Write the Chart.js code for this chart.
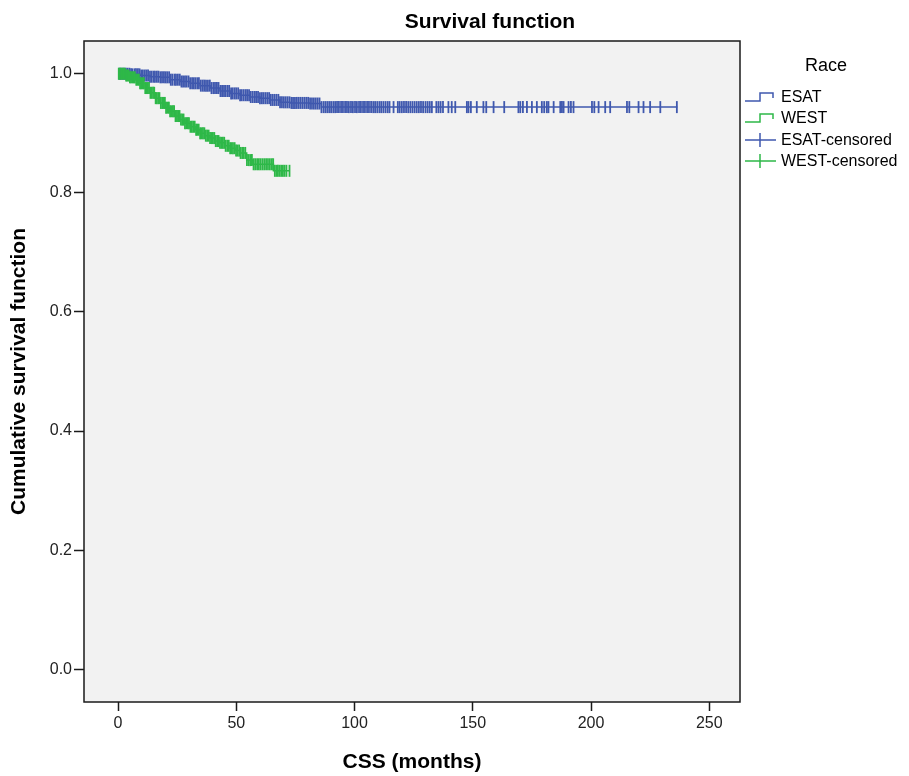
<!DOCTYPE html>
<html>
<head>
<meta charset="utf-8">
<script src="https://cdn.jsdelivr.net/npm/chart.js@4.4.1/dist/chart.umd.min.js"></script>
<style>
  html, body { margin: 0; padding: 0; background: #fff; }
</style>
</head>
<body>
<canvas id="km" width="909" height="776"></canvas>
<script>
// ===== data =====
const xTicks = [0, 50, 100, 150, 200, 250];
const yTicks = [0.0, 0.2, 0.4, 0.6, 0.8, 1.0];

// ESAT step curve (months, cumulative survival)
const esatTime = [0, 5, 9.3, 13.5, 17.8, 22, 26.2, 30.5, 34.7, 38.9, 43.1, 47.4, 51.6, 55.8, 60, 64.2, 68.5, 72.7, 77, 81, 86, 236.5];
const esatSurv = [1.000, 0.999, 0.997, 0.995, 0.994, 0.990, 0.987, 0.984, 0.980, 0.976, 0.971, 0.967, 0.964, 0.961, 0.959, 0.956, 0.952, 0.951, 0.951, 0.950, 0.944, 0.944];

// WEST step curve
const westTime = [0, 3, 5, 7.2, 9.3, 11.4, 13.5, 15.7, 17.8, 19.9, 22, 24.1, 26.2, 28.3, 30.5, 32.6, 34.7, 36.8, 38.9, 41, 43.1, 45.3, 47.4, 49.5, 51.6, 54.4, 57, 65.7, 72.5];
const westSurv = [1.000, 0.997, 0.994, 0.990, 0.984, 0.976, 0.968, 0.959, 0.951, 0.943, 0.937, 0.929, 0.923, 0.917, 0.911, 0.906, 0.900, 0.896, 0.892, 0.887, 0.884, 0.879, 0.875, 0.871, 0.867, 0.855, 0.848, 0.837, 0.837];

// censored observations (months)
const esatCensor = [0.5, 1.2, 2, 2.6, 3.3, 4, 4.8, 5.5, 6.1, 7, 7.6, 8.4, 9.1, 9.8, 10.5, 11.3, 12, 12.7, 13.5, 14.2, 15, 15.6, 16.4, 17.1, 17.9, 18.6, 19.4, 20.1, 20.8, 21.6, 22.3, 23, 23.9, 24.5, 25.3, 26.1, 26.8, 27.5, 28.3, 29, 29.8, 30.5, 31.3, 32, 32.7, 33.5, 34.2, 35, 35.8, 36.5, 37.2, 38, 38.8, 39.5, 40.3, 41, 41.8, 42.5, 43.3, 44, 44.8, 45.5, 46.3, 47, 47.8, 48.5, 49.3, 50, 50.8, 51.6, 52.3, 53.1, 53.9, 54.6, 55.4, 56.1, 56.9, 57.7, 58.4, 59.2, 60, 60.8, 61.5, 62.3, 63.1, 63.9, 64.6, 65.4, 66.2, 67, 67.8, 68.5, 69.3, 70.1, 70.9, 71.7, 72.5, 73.3, 74, 74.8, 75.6, 76.4, 77.2, 78, 78.8, 79.6, 80.4, 81.2, 82, 82.8, 83.6, 84.4, 85.2, 86, 86.9, 87.7, 88.5, 89.3, 90.1, 91, 91.8, 92.6, 93.4, 94.3, 95.1, 96, 96.8, 97.6, 98.5, 99.3, 100.2, 101, 101.9, 102.7, 103.6, 104.4, 105.3, 106.1, 107, 107.9, 108.7, 109.6, 110.5, 111.3, 112.2, 113.1, 114, 114.8, 116.5, 118.3, 119.1, 120, 120.9, 121.8, 122.7, 123.6, 124.5, 125.4, 126.3, 127.2, 128.1, 129, 130, 130.9, 131.8, 132.7, 134.6, 135.5, 136.4, 137.4,
  139.7, 141.1, 142.6, 147.5, 148.2, 149.2, 151.7, 154.5, 155.7, 158.8, 163.3, 169.3, 170.1, 171.2, 172.9, 175, 177.1, 179.2, 180.2, 181.3, 182, 184.2, 187, 187.7, 188.4, 190.5, 191.5, 192.6, 200.4, 201.4, 203.2, 206, 208.1, 215.2, 216.2, 220.1, 222.2, 225, 229.3, 236.3];
const westCensor = [0.3, 0.8, 1.3, 1.8, 2.3, 2.9, 3.4, 3.9, 4.5, 5, 5.5, 6.1, 6.6, 7.1, 7.7, 8.2, 8.8, 9.3, 9.8, 10.4, 10.9, 11.5, 12, 12.6, 13.1, 13.7, 14.2, 14.8, 15.3, 15.9, 16.4, 17, 17.5, 18.1, 18.7, 19.2, 19.8, 20.3, 20.9, 21.5, 22, 22.6, 23.2, 23.7, 24.3, 24.9, 25.4, 26, 26.6, 27.2, 27.7, 28.3, 28.9, 29.5, 30, 30.6, 31.2, 31.8, 32.4, 33, 33.5, 34.1, 34.7, 35.3, 35.9, 36.5, 37.1, 37.7, 38.3, 38.9, 39.5, 40.1, 40.7, 41.3, 41.9, 42.5, 43.1, 43.7, 44.3, 44.9, 45.5, 46.2, 46.8, 47.4, 48, 48.6, 49.3, 49.9, 50.5, 51.2, 51.8, 52.5, 53.1, 53.8, 54.5, 55.2, 55.9, 56.6, 57.3, 58, 58.8, 59.5, 60.2, 61, 61.8, 62.6, 63.4, 64.2, 65, 65.6, 66.3, 67, 67.6, 68.3, 69, 69.7, 70.4, 71.2, 72.5];

const ESAT_COLOR = '#3f58ae';
const WEST_COLOR = '#2eb848';
const FONT = "'Liberation Sans', Arial, sans-serif";

// survival value at a given time from the step arrays
function survAt(times, surv, t) {
  let s = surv[0];
  for (let i = 0; i < times.length; i++) {
    if (times[i] <= t) s = surv[i];
  }
  return s;
}

const toPts = (times, surv) => times.map((t, i) => ({ x: t, y: surv[i] }));
const censorPts = (cens, times, surv) => cens.map(t => ({ x: t, y: survAt(times, surv, t) }));

// ===== frame, title and legend drawn around the plot =====
const decor = {
  id: 'decor',
  beforeDraw(chart) {
    const { ctx, chartArea: a } = chart;
    ctx.save();
    ctx.fillStyle = '#ffffff';
    ctx.fillRect(0, 0, chart.width, chart.height);
    ctx.fillStyle = '#f2f2f2';
    ctx.fillRect(a.left, a.top, a.right - a.left, a.bottom - a.top);
    ctx.restore();
  },
  afterDraw(chart) {
    const { ctx, chartArea: a } = chart;
    ctx.save();
    ctx.strokeStyle = '#1a1a1a';
    ctx.lineWidth = 1.5;
    ctx.strokeRect(a.left, a.top, a.right - a.left, a.bottom - a.top);

    // title
    ctx.fillStyle = '#000';
    ctx.font = 'bold 21px ' + FONT;
    ctx.textAlign = 'center';
    ctx.textBaseline = 'middle';
    ctx.fillText('Survival function', 490, 22);

    // legend
    ctx.font = '18px ' + FONT;
    ctx.fillText('Race', 826, 66);

    ctx.font = '16px ' + FONT;
    ctx.textAlign = 'left';
    const items = [
      { text: 'ESAT', color: ESAT_COLOR, step: true, y: 97 },
      { text: 'WEST', color: WEST_COLOR, step: true, y: 118 },
      { text: 'ESAT-censored', color: ESAT_COLOR, step: false, y: 140 },
      { text: 'WEST-censored', color: WEST_COLOR, step: false, y: 161 }
    ];
    items.forEach(it => {
      ctx.strokeStyle = it.color;
      ctx.lineWidth = 1.5;
      ctx.beginPath();
      if (it.step) {
        ctx.moveTo(745, it.y + 4);
        ctx.lineTo(760, it.y + 4);
        ctx.lineTo(760, it.y - 4);
        ctx.lineTo(773, it.y - 4);
        ctx.lineTo(773, it.y + 1);
      } else {
        ctx.moveTo(745, it.y);
        ctx.lineTo(776, it.y);
        ctx.moveTo(760, it.y - 7);
        ctx.lineTo(760, it.y + 7);
      }
      ctx.stroke();
      ctx.fillStyle = '#000';
      ctx.fillText(it.text, 781, it.y + 1);
    });
    ctx.restore();
  }
};

const censorStyle = (color) => ({
  showLine: false,
  pointStyle: 'line',
  rotation: 90,
  pointRadius: 6,
  pointHoverRadius: 6,
  pointBorderWidth: 1.8,
  pointBorderColor: color,
  pointBackgroundColor: color,
  borderColor: color,
  backgroundColor: color
});

new Chart(document.getElementById('km'), {
  type: 'line',
  data: {
    datasets: [
      Object.assign({ label: 'WEST-censored', data: censorPts(westCensor, westTime, westSurv), order: 0 }, censorStyle(WEST_COLOR)),
      { label: 'WEST', data: toPts(westTime, westSurv), stepped: 'before', borderColor: WEST_COLOR, borderWidth: 1.5, pointRadius: 0, order: 1 },
      Object.assign({ label: 'ESAT-censored', data: censorPts(esatCensor, esatTime, esatSurv), order: 2 }, censorStyle(ESAT_COLOR)),
      { label: 'ESAT', data: toPts(esatTime, esatSurv), stepped: 'before', borderColor: ESAT_COLOR, borderWidth: 1.5, pointRadius: 0, order: 3 }
    ]
  },
  options: {
    responsive: false,
    animation: false,
    events: [],
    layout: { padding: { top: 41, right: 169, left: 0, bottom: 0 } },
    plugins: {
      legend: { display: false },
      tooltip: { enabled: false },
      title: { display: false }
    },
    scales: {
      x: {
        type: 'linear',
        min: -14.4,
        max: 263,
        afterFit: (s) => { s.height = 74; },
        afterBuildTicks: (s) => { s.ticks = xTicks.map(v => ({ value: v })); },
        ticks: { font: { family: FONT, size: 16 }, color: '#222', padding: 3, maxRotation: 0 },
        grid: { drawOnChartArea: false, drawTicks: true, tickLength: 9, tickWidth: 1.5, tickColor: '#1a1a1a' },
        border: { display: false },
        title: { display: true, text: 'CSS (months)', font: { family: FONT, size: 21, weight: 'bold' }, color: '#000', padding: { top: 0, bottom: 1 } }
      },
      y: {
        type: 'linear',
        min: -0.055,
        max: 1.055,
        afterFit: (s) => { s.width = 84; },
        afterBuildTicks: (s) => { s.ticks = yTicks.map(v => ({ value: v })); },
        ticks: { font: { family: FONT, size: 16 }, color: '#222', padding: 2, callback: (v) => v.toFixed(1) },
        grid: { drawOnChartArea: false, drawTicks: true, tickLength: 10, tickWidth: 1.5, tickColor: '#1a1a1a' },
        border: { display: false },
        title: { display: true, text: 'Cumulative survival function', font: { family: FONT, size: 21, weight: 'bold' }, color: '#000', padding: { top: 7, bottom: 0 } }
      }
    }
  },
  plugins: [decor]
});
</script>
</body>
</html>
